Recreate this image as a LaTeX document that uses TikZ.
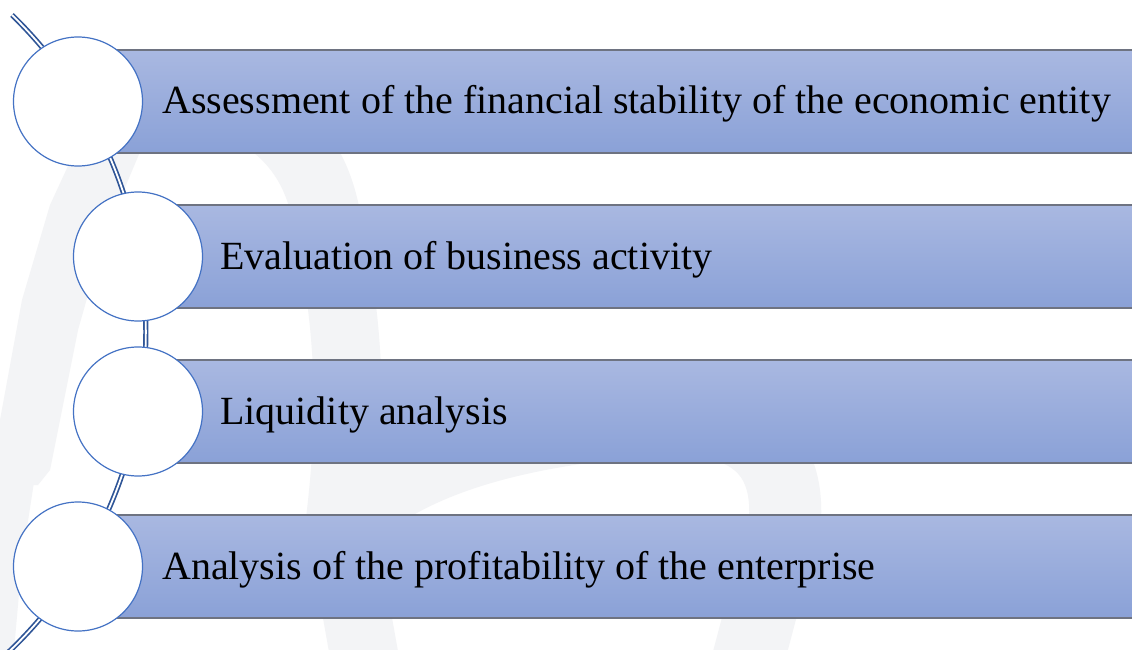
\documentclass[tikz,border=0pt]{standalone}
\usepackage{fontspec}
\setmainfont{Liberation Serif}
\definecolor{barTop}{HTML}{A9B8E1}
\definecolor{barBot}{HTML}{8AA1D7}
\definecolor{barLine}{HTML}{6E7381}
\definecolor{ringBlue}{HTML}{4472C4}
\definecolor{spineBlue}{HTML}{2F5597}
\definecolor{wmGray}{HTML}{F3F4F6}
\begin{document}
\begin{tikzpicture}[x=1pt,y=-1pt,
  bar/.style={draw=barLine, line width=1.3pt, top color=barTop, bottom color=barBot,
              minimum width=1070pt, minimum height=103pt, inner sep=0pt, anchor=west},
  dot/.style={circle, fill=white, draw=ringBlue, line width=1.2pt,
              minimum size=129pt, inner sep=0pt},
  lbl/.style={anchor=base west, inner sep=0pt, text=black,
              font=\fontsize{40}{48}\selectfont},
  spine/.style={draw=spineBlue, line width=1.7pt, double=white, double distance=1.8pt},
  wm/.style={draw=wmGray, line cap=butt}
]
\useasboundingbox (0,0) rectangle (1132,650);
\clip (0,0) rectangle (1132,650);
\fill[white] (0,0) rectangle (1132,650);

% faint background emblem
\fill[wmGray] (0,485) -- (0,420) -- (22,300) -- (50,205) -- (80,140) -- (145,140)
  -- (105,235) -- (78,330) -- (50,470) -- (38,485) -- cycle;
\fill[wmGray] (0,482) -- (34,482) -- (22,560) -- (14,650) -- (0,650) -- cycle;
\draw[wm, line width=68pt] (365,660) -- (340,520) .. controls (352,420) and (352,330)
  .. (325,210) .. controls (315,165) and (290,125) .. (230,100);
\draw[wm, line width=72pt] (345,520) .. controls (400,470) and (480,440)
  .. (600,425) .. controls (720,405) and (790,430) .. (785,520) -- (748,660);

% curved spine behind the circles
\coordinate (s0) at (12,15);
\draw[spine] (s0) arc[start angle=-45.8, end angle=48, radius=442];

% bars
\node[bar] (b1) at (78,101.5) {};
\node[bar] (b2) at (138,256.5) {};
\node[bar] (b3) at (138,411.5) {};
\node[bar] (b4) at (78,566.5) {};

% circles
\node[dot] (c1) at (78,101.5) {};
\node[dot] (c2) at (138,256.5) {};
\node[dot] (c3) at (138,411.5) {};
\node[dot] (c4) at (78,566.5) {};

% labels
\node[lbl] (t1) at (162,114) {Assessment of the financial stability of the economic entity};
\node[lbl] (t2) at (220,269) {Evaluation of business activity};
\node[lbl] (t3) at (220,424) {Liquidity analysis};
\node[lbl] (t4) at (162,579) {Analysis of the profitability of the enterprise};
\end{tikzpicture}
\end{document}
